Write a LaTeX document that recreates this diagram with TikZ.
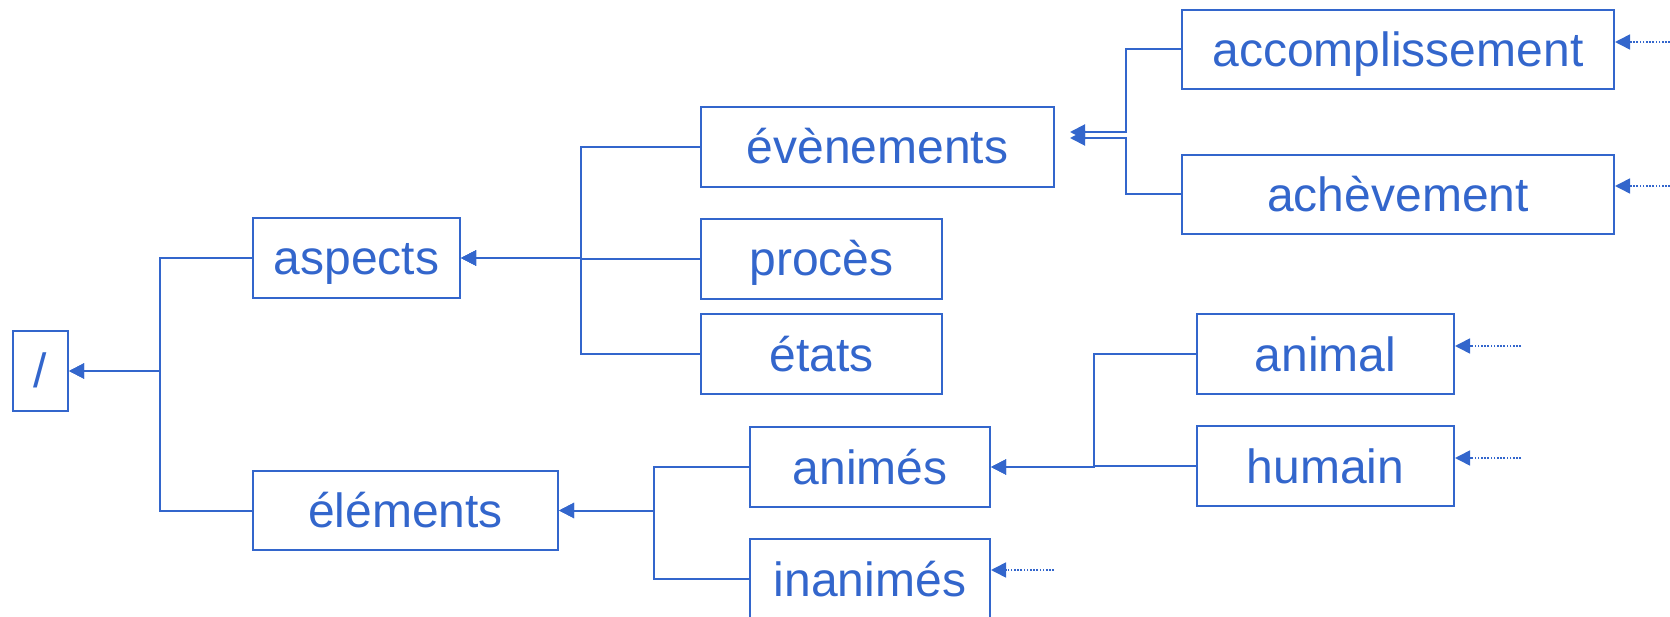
\documentclass[tikz,border=0pt]{standalone}
\usepackage{fontspec}
\setmainfont{Liberation Sans}
\usetikzlibrary{arrows.meta}
\definecolor{bl}{RGB}{51,102,204}
\begin{document}
\begin{tikzpicture}[x=1pt,y=-1pt,
  box/.style={draw=bl, line width=2pt, text=bl, font=\fontsize{48}{50}\selectfont, inner sep=0pt, anchor=center, text height=34pt, text depth=0pt},
  conn/.style={draw=bl, line width=2pt, -{Triangle[length=15pt,width=15pt]}},
  dotarr/.style={draw=bl, line width=1.6pt, dash pattern=on 1.6pt off 1.6pt, -{Triangle[length=15pt,width=15pt]}}]
\useasboundingbox (0,0) rectangle (1670,617);
\begin{scope}
\clip (0,0) rectangle (1670,617);
% nodes
\node[box, minimum width=55pt, minimum height=80pt] (root) at (40.5,371) {/};
\node[box, minimum width=207pt, minimum height=80pt] (asp) at (356.5,258) {aspects};
\node[box, minimum width=305pt, minimum height=79pt] (ele) at (405.5,510.5) {éléments};
\node[box, minimum width=353pt, minimum height=80pt] (eve) at (877.5,147) {évènements};
\node[box, minimum width=241pt, minimum height=80pt] (pro) at (821.5,259) {procès};
\node[box, minimum width=241pt, minimum height=80pt] (eta) at (821.5,354) {états};
\node[box, minimum width=432pt, minimum height=79pt] (acc) at (1398,49.5) {accomplissement};
\node[box, minimum width=432pt, minimum height=79pt] (ach) at (1398,194.5) {achèvement};
\node[box, minimum width=257pt, minimum height=80pt] (anl) at (1325.5,354) {animal};
\node[box, minimum width=257pt, minimum height=80pt] (hum) at (1325.5,466) {humain};
\node[box, minimum width=240pt, minimum height=80pt] (ani) at (870,467) {animés};
\node[box, minimum width=240pt, minimum height=80pt] (ina) at (870,579) {inanimés};
% junction columns
\coordinate (jR) at (160,0);
\coordinate (jA) at (581,0);
\coordinate (jE) at (654,0);
\coordinate (jV) at (1126,0);
\coordinate (jN) at (1094,0);
\coordinate (ev1) at (1070,132);
\coordinate (ev2) at (1070,138);
% connectors
\draw[conn] (asp.west) -| (jR |- root.east) -- (root.east);
\draw[conn] (ele.west) -| (jR |- root.east) -- (root.east);
\draw[conn] (eve.west) -| (jA |- asp.east) -- (asp.east);
\draw[conn] (pro.west) -| (jA |- asp.east) -- (asp.east);
\draw[conn] (eta.west) -| (jA |- asp.east) -- (asp.east);
\draw[conn] (ani.west) -| (jE |- ele.east) -- (ele.east);
\draw[conn] (ina.west) -| (jE |- ele.east) -- (ele.east);
\draw[conn] (anl.west) -| (jN |- ani.east) -- (ani.east);
\draw[conn] (hum.west) -| (jN |- ani.east) -- (ani.east);
\draw[conn] (acc.west) -| (jV |- ev1) -- (ev1);
\draw[conn] (ach.west) -| (jV |- ev2) -- (ev2);
% dotted incoming arrows
\coordinate (d1) at (1670,42);
\coordinate (d2) at (1670,186);
\coordinate (d3) at (1521,346);
\coordinate (d4) at (1521,458);
\coordinate (d5) at (1054,570);
\draw[dotarr] (d1) -- (acc.east |- d1);
\draw[dotarr] (d2) -- (ach.east |- d2);
\draw[dotarr] (d3) -- (anl.east |- d3);
\draw[dotarr] (d4) -- (hum.east |- d4);
\draw[dotarr] (d5) -- (ina.east |- d5);
\end{scope}
\end{tikzpicture}
\end{document}
